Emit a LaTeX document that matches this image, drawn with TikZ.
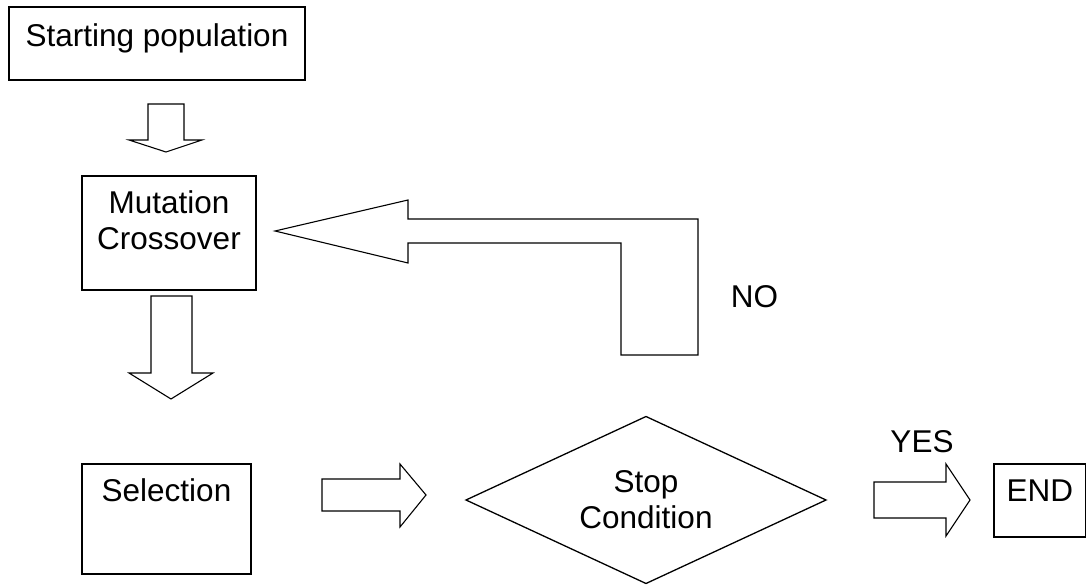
\documentclass[tikz,border=0pt]{standalone}
\usepackage{fontspec}
\setmainfont{Liberation Sans}
\usetikzlibrary{shapes.geometric}

\begin{document}
\begin{tikzpicture}[
    x=1pt, y=-1pt,
    procbox/.style={rectangle, draw=black, line width=1.5pt, inner sep=0pt, outer sep=0pt, anchor=north west, align=center, font=\fontsize{31.5}{36}\selectfont},
    decision/.style={diamond, aspect=2.15, draw=black, line width=1.3pt, inner sep=0pt, outer sep=0pt, minimum width=360pt, minimum height=167pt, align=center, font=\fontsize{31.5}{36}\selectfont},
    blockarrow/.style={draw=black, line width=1.1pt, line join=miter, fill=white},
    tag/.style={anchor=base, inner sep=0pt, font=\fontsize{31.5}{36}\selectfont}
]
\useasboundingbox (0,0) rectangle (1087,585);

\node[procbox, minimum width=296pt, text height=40pt, text depth=33pt] (start) at (9,7) {Starting population};
\node[procbox, minimum width=174pt, text height=74pt, text depth=40pt] (mut) at (82,176) {Mutation\\Crossover};
\node[procbox, minimum width=169pt, text height=37pt, text depth=73pt] (sel) at (82,464) {Selection};
\node[decision] (stop) at (646,500) {Stop\\Condition};
\node[procbox, minimum width=91.5pt, text height=37pt, text depth=36pt] (end) at (994,464) {END};

\node[tag] (no) at (754.5,308) {NO};
\node[tag] (yes) at (922,452) {YES};

% hollow block arrows between the steps
\draw[blockarrow] (148,104) -- (184,104) -- (184,140) -- (202,140) -- (166,152) -- (129,140) -- (148,140) -- cycle;
\draw[blockarrow] (151,296) -- (192,296) -- (192,373) -- (213,373) -- (171,399) -- (129,373) -- (151,373) -- cycle;
\draw[blockarrow] (322,479) -- (400,479) -- (400,464) -- (426,495) -- (400,527) -- (400,511) -- (322,511) -- cycle;
\draw[blockarrow] (874,482) -- (946,482) -- (946,464) -- (970,500) -- (946,536) -- (946,518) -- (874,518) -- cycle;

% loop back when the stop condition fails
\draw[blockarrow] (275,231) -- (408,200) -- (408,219) -- (698,219) -- (698,355) -- (621,355) -- (621,243) -- (408,243) -- (408,263) -- cycle;

\end{tikzpicture}
\end{document}
